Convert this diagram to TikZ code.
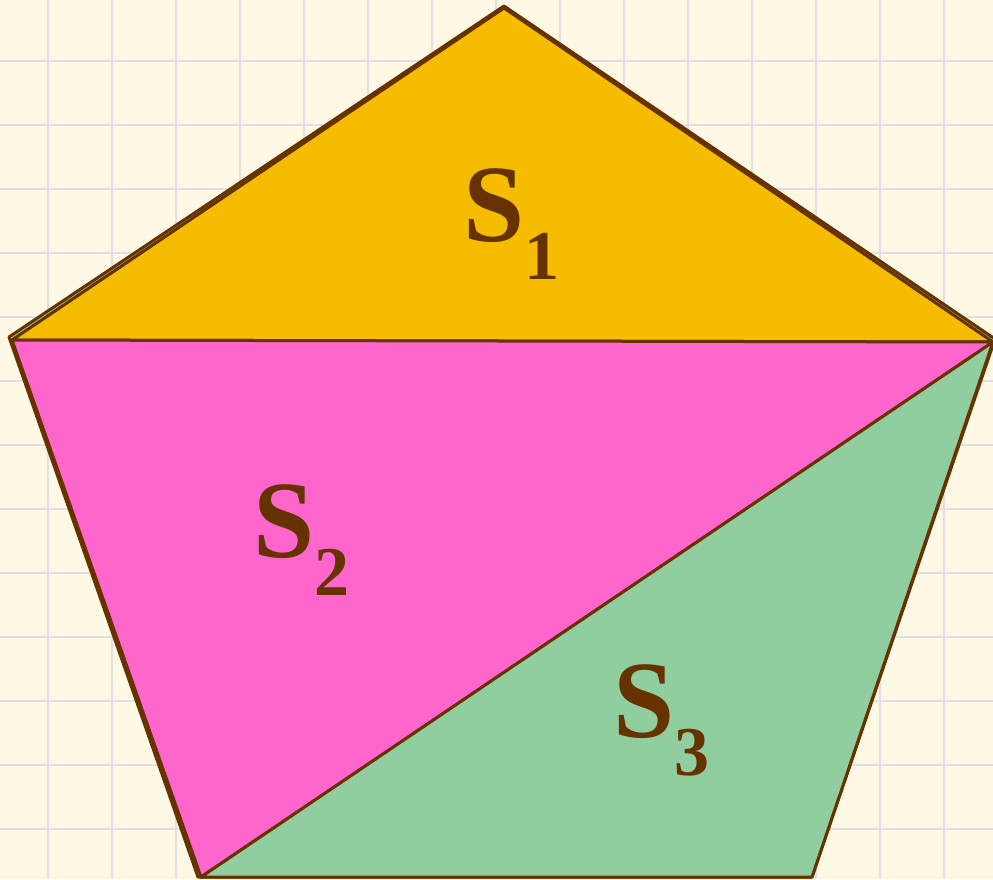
\documentclass[tikz,border=0pt]{standalone}
\usepackage{fontspec}
\setmainfont{Liberation Serif}
\definecolor{bgc}{HTML}{FFF8E5}
\definecolor{gridc}{HTML}{E0E0E0}
\definecolor{yel}{HTML}{F5BC00}
\definecolor{pnk}{HTML}{FF66CC}
\definecolor{grn}{HTML}{90CEA0}
\definecolor{brn}{HTML}{663300}
\tikzset{
  piece/.style={draw=brn, line width=3pt, line join=round},
  lab/.style={text=brn, inner sep=0pt, anchor=base west, font=\fontsize{110}{110}\selectfont\bfseries},
}
\newcommand{\sublab}[1]{\raisebox{-38pt}{\fontsize{70}{70}\selectfont\bfseries #1}}
\begin{document}
\begin{tikzpicture}[x=1pt,y=-1pt]
\fill[bgc] (0,0) rectangle (993,879);
\useasboundingbox (0,0) rectangle (993,879);
\foreach \x in {48,112,...,944} \draw[gridc, line width=2.2pt] (\x,0) -- (\x,879);
\foreach \y in {61,125,...,829} \draw[gridc, line width=2.2pt] (0,\y) -- (993,\y);
% vertices
\coordinate (T) at (504,8);
\coordinate (L) at (12,340);
\coordinate (R) at (993,342);
\coordinate (BL) at (201,877);
\coordinate (BR) at (812,877);
% underlying pentagon (slightly offset)
\filldraw[fill=grn, piece] (504,6) -- (9,337) -- (198,877) -- (812,877) -- (995,339) -- cycle;
% pieces
\filldraw[fill=yel, piece] (T) -- (L) -- (R) -- cycle;
\filldraw[fill=pnk, piece] (L) -- (R) -- (BL) -- cycle;
\filldraw[fill=grn, piece] (R) -- (BR) -- (BL) -- cycle;
% labels
\node[lab] (s1) at (463,241) {S\sublab{1}};
\node[lab] (s2) at (253,557) {S\sublab{2}};
\node[lab] (s3) at (613,737) {S\sublab{3}};
\end{tikzpicture}
\end{document}
